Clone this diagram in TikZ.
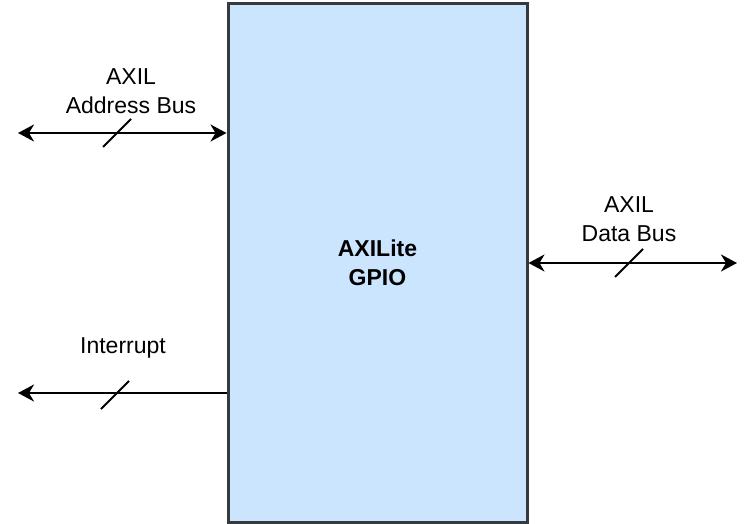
\documentclass[tikz,border=0pt]{standalone}
\usepackage{fontspec}
\setmainfont{Liberation Sans}
\usepackage{xcolor}
\usetikzlibrary{arrows.meta,positioning,calc}

\definecolor{blockfill}{HTML}{CCE5FF}
\definecolor{blockdraw}{HTML}{36393D}

\begin{document}
\begin{tikzpicture}[
    x=1pt, y=-1pt,
    font=\fontsize{23}{29}\selectfont,
    block/.style={rectangle, draw=blockdraw, fill=blockfill, line width=3pt, minimum width=299pt, minimum height=518.5pt, inner sep=0pt, align=center, font=\fontsize{23}{29}\selectfont\bfseries},
    arrow/.style={line width=2.2pt, {Stealth[length=16pt,width=17pt,inset=5pt]}-{Stealth[length=16pt,width=17pt,inset=5pt]}},
    leftarrow/.style={line width=2.2pt, -{Stealth[length=16pt,width=17pt,inset=5pt]}},
    busmark/.style={line width=1.8pt},
    buslabel/.style={align=center, inner sep=0pt}
]
    \useasboundingbox (0,0) rectangle (756,524);

    % GPIO block
    \node[block] (gpio) at (377.5,262.75) {AXILite\\GPIO};

    % Free ends
    \coordinate (addrend) at (18,133);
    \coordinate (dataend) at (737,263);
    \coordinate (irqend) at (18,393);

    % Buses
    \draw[arrow] (addrend) -- (addrend -| gpio.west);
    \draw[arrow] (gpio.east |- dataend) -- (dataend);
    \draw[leftarrow] (gpio.west |- irqend) -- (irqend);

    % Bus width marks
    \draw[busmark] (103,147) -- (131,119);
    \draw[busmark] (615,277) -- (643,249);
    \draw[busmark] (101,409) -- (129,381);

    % Labels
    \node[buslabel] (addrlabel) at (131,91) {AXIL\\Address Bus};
    \node[buslabel] (datalabel) at (629,219) {AXIL\\Data Bus};
    \node[buslabel] (irqlabel) at (123,348) {Interrupt};
\end{tikzpicture}
\end{document}
